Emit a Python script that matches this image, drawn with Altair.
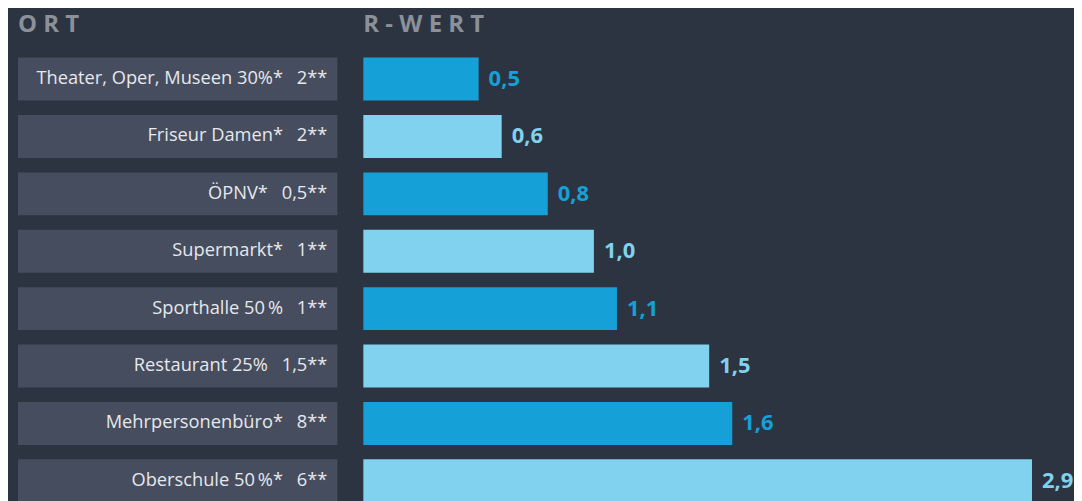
import altair as alt
import pandas as pd

# ---- data ----
places = [
    "Theater, Oper, Museen 30%*\u2002 2**",
    "Friseur Damen*\u2002 2**",
    "ÖPNV*\u2002 0,5**",
    "Supermarkt*\u2002 1**",
    "Sporthalle 50\u2009%\u2002 1**",
    "Restaurant 25%\u2002 1,5**",
    "Mehrpersonenbüro*\u2002 8**",
    "Oberschule 50\u2009%*\u2002 6**",
]
r_values = [0.5, 0.6, 0.8, 1.0, 1.1, 1.5, 1.6, 2.9]
shade = ["dunkel", "hell", "dunkel", "hell", "dunkel", "hell", "dunkel", "hell"]

df = pd.DataFrame({"ort": places, "r": r_values, "shade": shade, "full": [1] * len(places)})

BG = "#2c3442"
BOX = "#464d5e"
DARK = "#16a0d8"
LIGHT = "#80d2ee"
HEAD = "#8b9099"
FONT = "Open Sans"

yenc = alt.Y(
    "ort:N",
    sort=None,
    axis=None,
    scale=alt.Scale(paddingInner=0.252, paddingOuter=0.126),
)

left_base = alt.Chart(df).encode(
    y=yenc,
    x=alt.X("full:Q", scale=alt.Scale(domain=[0, 1]), axis=None),
)
boxes = left_base.mark_bar(color=BOX)
box_text = left_base.mark_text(
    align="right", baseline="middle", dx=-10, font=FONT, fontSize=18.3, color="#e6e8ec"
).encode(text="ort:N")

left = (boxes + box_text).properties(
    width=320,
    height=460,
    title=alt.TitleParams(
        "O R T", anchor="start", font=FONT, fontSize=24, fontWeight="bold",
        color=HEAD, baseline="alphabetic", offset=-6,
    ),
)

color_scale = alt.Scale(domain=["dunkel", "hell"], range=[DARK, LIGHT])

right_base = alt.Chart(df).transform_calculate(
    label="replace(format(datum.r, '.1f'), '.', ',')"
).encode(
    y=yenc,
    x=alt.X("r:Q", scale=alt.Scale(domain=[0, 3.0]), axis=None),
    color=alt.Color("shade:N", scale=color_scale, legend=None),
)
bars = right_base.mark_bar()
values = right_base.mark_text(
    align="left", baseline="middle", dx=10, font=FONT, fontSize=22, fontWeight="bold"
).encode(text="label:N")

right = (bars + values).properties(
    width=693,
    height=460,
    title=alt.TitleParams(
        "R - W E R T", anchor="start", font=FONT, fontSize=24, fontWeight="bold",
        color=HEAD, baseline="alphabetic", offset=-6,
    ),
)

chart = (
    alt.hconcat(left, right, spacing=26)
    .properties(background=BG, padding={"left": 10, "top": 5, "right": 0, "bottom": 0})
    .configure_view(stroke=None)
)

chart.save("out.html", embed_options={"renderer": "svg", "actions": False})
